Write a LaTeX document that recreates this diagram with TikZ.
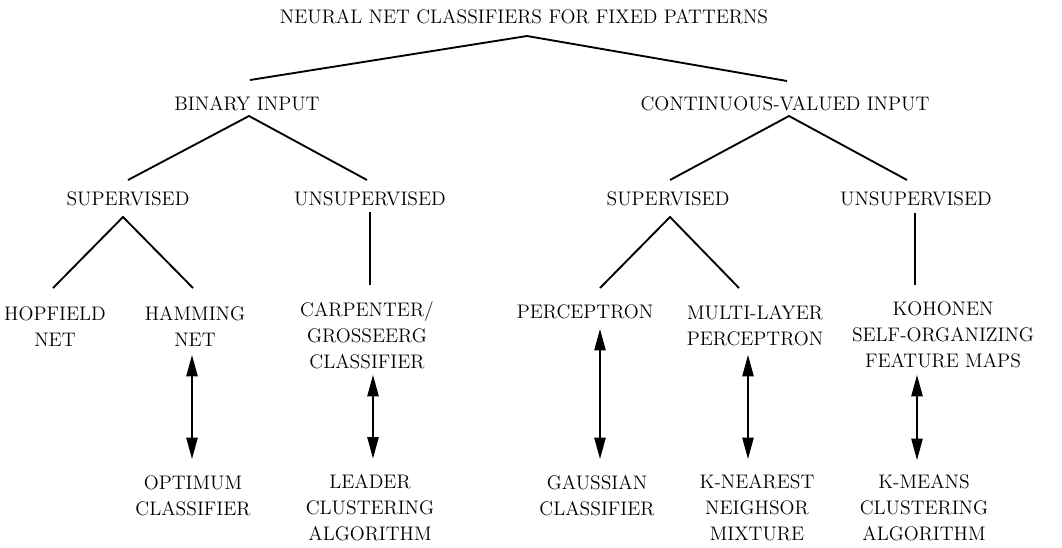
\documentclass[tikz,border=0pt]{standalone}
\usetikzlibrary{calc,arrows.meta}
\begin{document}
\begin{tikzpicture}[x=0.75pt,y=-0.75pt,
  lbl/.style={inner sep=0pt,align=center,font=\fontsize{14.7}{19.5}\selectfont},
  tree/.style={line width=1.4pt},
  dbl/.style={line width=1pt,{Triangle[length=16pt,width=8.5pt]}-{Triangle[length=16pt,width=8.5pt]}}]
\useasboundingbox (0,0) rectangle (1062,547);
\node[lbl] (title) at (524,17) {NEURAL NET CLASSIFIERS FOR FIXED PATTERNS};
\node[lbl] (bin) at (247,104) {BINARY INPUT};
\node[lbl] (cont) at (785,104) {CONTINUOUS-VALUED INPUT};
\node[lbl] (sup1) at (128,199) {SUPERVISED};
\node[lbl] (uns1) at (370,199) {UNSUPERVISED};
\node[lbl] (sup2) at (668,199) {SUPERVISED};
\node[lbl] (uns2) at (916,199) {UNSUPERVISED};
\node[lbl] (hop) at (55,326.5) {HOPFIELD\\NET};
\node[lbl] (ham) at (195,326.5) {HAMMING\\NET};
\node[lbl] (carp) at (367,335) {CARPENTER/\\GROSSEERG\\CLASSIFIER};
\node[lbl] (perc) at (585,312) {PERCEPTRON};
\node[lbl] (mlp) at (755,326) {MULTI-LAYER\\PERCEPTRON};
\node[lbl] (koh) at (943,335) {KOHONEN\\SELF-ORGANIZING\\FEATURE MAPS};
\node[lbl] (opt) at (193,496) {OPTIMUM\\CLASSIFIER};
\node[lbl] (lead) at (370,508) {LEADER\\CLUSTERING\\ALGORITHM};
\node[lbl] (gauss) at (597,496) {GAUSSIAN\\CLASSIFIER};
\node[lbl] (knn) at (757,508) {K-NEAREST\\NEIGHSOR\\MIXTURE};
\node[lbl] (kmeans) at (924,508) {K-MEANS\\CLUSTERING\\ALGORITHM};
% tree lines
\draw[tree] ($(bin.center)+(3,-24)$) -- ($(title.center)+(3,19)$) -- ($(cont.center)+(2,-23)$);
\draw[tree] ($(sup1.center)+(0,-19)$) -- ($(bin.center)+(2,12)$) -- ($(uns1.center)+(-3,-19)$);
\draw[tree] ($(sup2.center)+(2,-19)$) -- ($(cont.center)+(4,12)$) -- ($(uns2.center)+(-9,-19)$);
\draw[tree] ($(hop.center)+(-2,-38.5)$) -- ($(sup1.center)+(-5,18)$) -- ($(ham.center)+(-2,-38.5)$);
\draw[tree] ($(uns1.center)+(0,13)$) -- ($(carp.center)+(3,-50)$);
\draw[tree] ($(perc.center)+(15,-24)$) -- ($(sup2.center)+(2,18)$) -- ($(mlp.center)+(-16,-38)$);
\draw[tree] ($(uns2.center)+(-1,14)$) -- ($(koh.center)+(-28,-50)$);
% equivalence arrows
\draw[dbl] ($(ham.center)+(-3,28.5)$) -- ($(opt.center)+(-1,-37)$);
\draw[dbl] ($(carp.center)+(6,40)$) -- ($(lead.center)+(3,-49.5)$);
\draw[dbl] ($(perc.center)+(15,17)$) -- ($(gauss.center)+(3,-37)$);
\draw[dbl] ($(mlp.center)+(-7,29)$) -- ($(knn.center)+(-9,-49)$);
\draw[dbl] ($(koh.center)+(-26,40)$) -- ($(kmeans.center)+(-7,-48)$);
\end{tikzpicture}
\end{document}
